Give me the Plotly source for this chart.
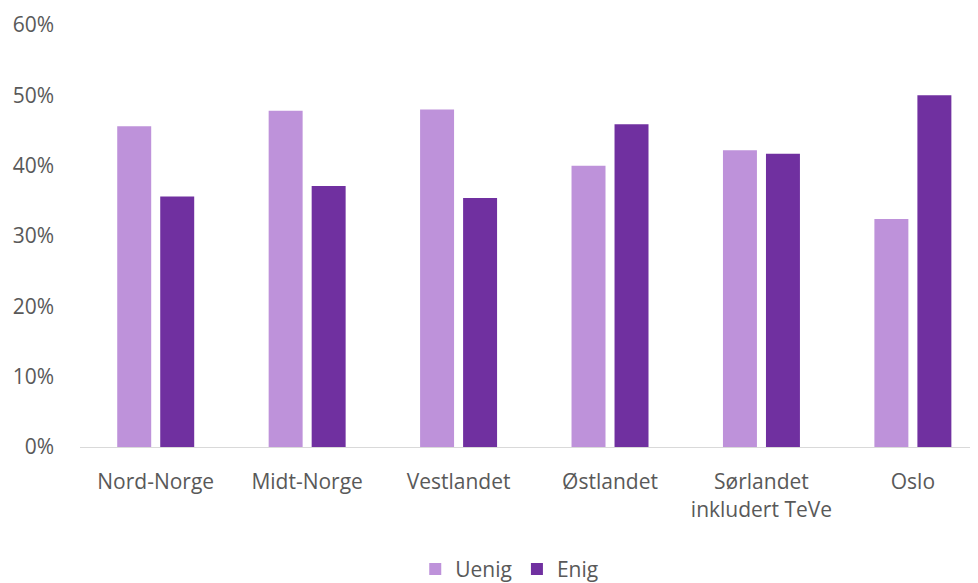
import plotly.graph_objects as go

categories = ["Nord-Norge", "Midt-Norge", "Vestlandet", "Østlandet", "Sørlandet<br>inkludert TeVe", "Oslo"]
uenig = [0.456, 0.478, 0.480, 0.400, 0.422, 0.324]
enig = [0.356, 0.371, 0.354, 0.459, 0.417, 0.500]
y_ticks = [0, 0.1, 0.2, 0.3, 0.4, 0.5, 0.6]
y_labels = ["0%", "10%", "20%", "30%", "40%", "50%", "60%"]

fig = go.Figure()
fig.add_trace(go.Bar(name="Uenig", x=categories, y=uenig, marker_color="#BE92DA", marker_line_width=0))
fig.add_trace(go.Bar(name="Enig", x=categories, y=enig, marker_color="#7030A0", marker_line_width=0))

FONT = "Open Sans"
fig.update_layout(
    width=970, height=575,
    barmode="group", bargap=0.432, bargroupgap=0.21,
    paper_bgcolor="white", plot_bgcolor="white",
    margin=dict(l=72, r=0, t=17, b=136, autoexpand=False),
    font=dict(family=FONT, size=21, color="#595959"),
    showlegend=True,
    legend=dict(orientation="h", x=0.478, xanchor="center", y=-0.29, yanchor="middle",
                font=dict(size=21, color="#595959"), traceorder="normal", itemwidth=30),
    xaxis=dict(range=[-0.5, 5.43], showline=True, linecolor="#D9D9D9", linewidth=1,
               showgrid=False, ticks="", ticklabelstandoff=16, automargin=False,
               tickfont=dict(size=21, color="#595959")),
    yaxis=dict(range=[0, 0.6], tickvals=y_ticks, ticktext=y_labels, showgrid=False,
               zeroline=False, showline=False, ticks="", ticklabelstandoff=25, automargin=False,
               tickfont=dict(size=21, color="#595959")),
)
fig.write_html("out.html")
